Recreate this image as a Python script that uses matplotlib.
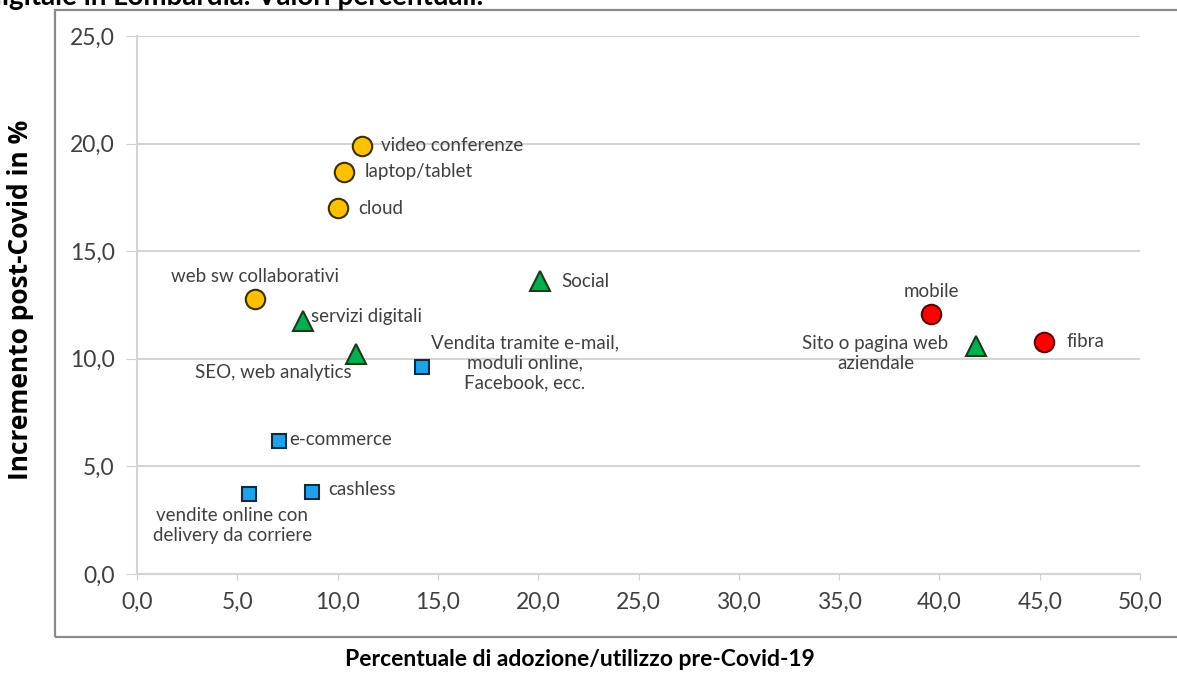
import matplotlib.pyplot as plt
from matplotlib.patches import Rectangle

plt.rcParams['font.family'] = ['Lato', 'DejaVu Sans']

# series: (x = pre-Covid adoption %, y = post-Covid increase %)
tools_lbl = ["video conferenze", "laptop/tablet", "cloud", "web sw collaborativi"]
tools_x = [11.2, 10.3, 10.0, 5.9]
tools_y = [19.9, 18.7, 17.0, 12.8]

conn_lbl = ["mobile", "fibra"]
conn_x = [39.6, 45.2]
conn_y = [12.1, 10.8]

web_lbl = ["servizi digitali", "SEO, web analytics", "Social", "Sito o pagina web\naziendale"]
web_x = [8.3, 10.9, 20.1, 41.8]
web_y = [11.75, 10.2, 13.6, 10.6]

sales_lbl = ["Vendita tramite e-mail,\nmoduli online,\nFacebook, ecc.", "e-commerce",
             "cashless", "vendite online con\ndelivery da corriere"]
sales_x = [14.2, 7.1, 8.7, 5.6]
sales_y = [9.6, 6.2, 3.8, 3.7]

x_ticks = [0, 5, 10, 15, 20, 25, 30, 35, 40, 45, 50]
y_ticks = [0, 5, 10, 15, 20, 25]

# label placement: (dx px, dy px, ha, va)
tools_pos = [(19, 0, 'left', 'center'), (21, 0, 'left', 'center'),
             (21, 0, 'left', 'center'), (0, 14, 'center', 'bottom')]
conn_pos = [(0, 14, 'center', 'bottom'), (23, 0, 'left', 'center')]
web_pos = [(8, 5, 'left', 'center'), (-4, -18, 'right', 'center'),
           (21, 0, 'left', 'center'), (-100, 11, 'center', 'top')]
sales_pos = [(103, 33, 'center', 'top'), (10, 1, 'left', 'center'),
             (17, 3, 'left', 'center'), (-17, -13, 'center', 'top')]

fig = plt.figure(figsize=(11.77, 6.78), dpi=100)
ax = fig.add_axes([137 / 1177, 104 / 678, 1003 / 1177, 538 / 678])

# outer chart border (right side cut off like the source)
fig.patches.append(Rectangle((55 / 1177, 41 / 678), 1.2, 627 / 678,
                             transform=fig.transFigure, fill=False,
                             edgecolor='#8a8a8a', linewidth=1.6))

fig.text(-0.012, 1 - 5 / 678, "digitale in Lombardia. Valori percentuali.",
         fontsize=20, fontweight='bold', ha='left', va='baseline')

ax.plot(tools_x, tools_y, 'o', ms=14, mfc='#FFC000', mec='#3a3000', mew=1.5)
ax.plot(conn_x, conn_y, 'o', ms=14, mfc='#FF0000', mec='#5a0000', mew=1.5)
ax.plot(web_x, web_y, '^', ms=14, mfc='#00B050', mec='#1b3a1b', mew=1.5)
ax.plot(sales_x, sales_y, 's', ms=10, mfc='#1CA3EC', mec='#0d2a40', mew=1.5)

groups = [(tools_lbl, tools_x, tools_y, tools_pos),
          (conn_lbl, conn_x, conn_y, conn_pos),
          (web_lbl, web_x, web_y, web_pos),
          (sales_lbl, sales_x, sales_y, sales_pos)]
for lbls, xs, ys, pos in groups:
    for lbl, x, y, (dx, dy, ha, va) in zip(lbls, xs, ys, pos):
        ax.annotate(lbl, (x, y), xytext=(dx, dy),
                    textcoords='offset pixels', ha=ha, va=va,
                    fontsize=13.5, color='#404040', linespacing=1.2,
                    multialignment='center')

ax.set_xlim(0, 50)
ax.set_ylim(0, 25)
ax.set_xticks(x_ticks)
ax.set_yticks(y_ticks)
ax.set_xticklabels([f"{v:.1f}".replace('.', ',') for v in x_ticks])
ax.set_yticklabels([f"{v:.1f}".replace('.', ',') for v in y_ticks])
ax.tick_params(axis='both', labelsize=16.5, colors='#d0d0d0', labelcolor='#404040')
ax.tick_params(axis='x', length=4, pad=9)
ax.tick_params(axis='y', length=8, pad=8)

ax.grid(axis='y', color='#d4d4d4', linewidth=1.5)
ax.set_axisbelow(True)
for side in ['top', 'right']:
    ax.spines[side].set_visible(False)
for side in ['left', 'bottom']:
    ax.spines[side].set_color('#d4d4d4')
    ax.spines[side].set_linewidth(1.5)

fig.text(580 / 1177, 18 / 678, "Percentuale di adozione/utilizzo pre-Covid-19",
         fontsize=16.5, fontweight='bold', ha='center', va='center')
fig.text(21 / 1177, 1 - 300 / 678, "Incremento post-Covid in %",
         fontsize=19, fontweight='bold', ha='center', va='center', rotation=90,
         family=['Open Sans', 'DejaVu Sans'])

fig.savefig("out.png", dpi=100)
